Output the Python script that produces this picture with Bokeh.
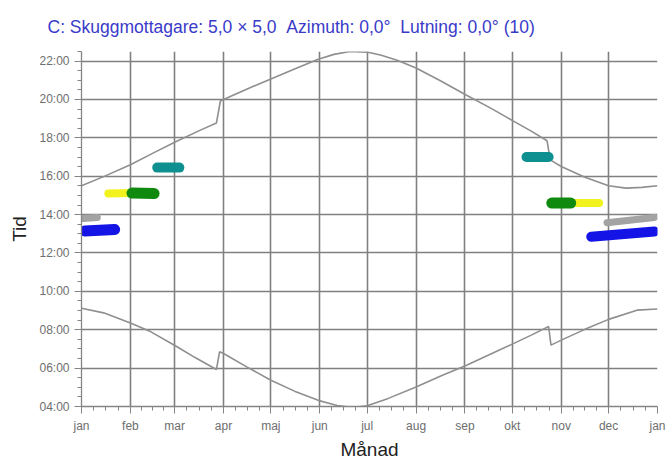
from bokeh.plotting import figure
from bokeh.models import FixedTicker, Range1d, Title
from bokeh.embed import file_html
from bokeh.resources import INLINE

# ---- axis definitions ----
month_days = [0, 31, 59, 90, 120, 151, 181, 212, 243, 273, 304, 334, 365]
month_labels = ["jan", "feb", "mar", "apr", "maj", "jun", "jul", "aug", "sep", "okt", "nov", "dec", "jan"]
hour_ticks = [4, 6, 8, 10, 12, 14, 16, 18, 20, 22]
hour_labels = ["04:00", "06:00", "08:00", "10:00", "12:00", "14:00", "16:00", "18:00", "20:00", "22:00"]

# ---- sunset curve (day of year, hour) ----
sunset_day = [0, 14, 31, 45, 60, 75, 85.5, 88, 90, 105, 120, 135, 150, 160, 170, 181, 190, 200,
              212, 228, 244, 259, 274, 285, 295, 297, 304, 319, 334, 345, 355, 365]
sunset_hour = [15.50, 15.98, 16.60, 17.19, 17.81, 18.39, 18.77, 19.92, 20.00, 20.55, 21.07, 21.59, 22.10,
               22.35, 22.50, 22.47, 22.30, 22.04, 21.64, 20.95, 20.22, 19.56, 18.86, 18.35, 17.85,
               16.85, 16.51, 15.95, 15.50, 15.38, 15.42, 15.50]

# ---- sunrise curve ----
sunrise_day = [0, 14, 31, 44, 60, 72, 85.5, 87.5, 90, 105, 120, 135, 150, 162, 172, 181, 194, 212,
               228, 244, 259, 274, 285, 296, 297.5, 304, 319, 334, 352, 365]
sunrise_hour = [9.12, 8.88, 8.35, 7.89, 7.14, 6.55, 5.93, 6.85, 6.76, 6.05, 5.37, 4.80, 4.32, 4.05,
                3.95, 4.04, 4.41, 5.02, 5.60, 6.15, 6.72, 7.29, 7.72, 8.17, 7.20, 7.46, 8.02, 8.54,
                9.02, 9.08]

# ---- shadow periods (start/end day, start/end hour) ----
gray_l_day = [1, 10];      gray_l_hour = [13.80, 13.85]
blue_l_day = [2, 21];      blue_l_hour = [13.15, 13.22]
yellow_l_day = [17, 31];   yellow_l_hour = [15.10, 15.12]
green_l_day = [32, 46];    green_l_hour = [15.12, 15.10]
teal_l_day = [48, 62];     teal_l_hour = [16.45, 16.45]
teal_r_day = [282, 296];   teal_r_hour = [17.00, 17.00]
yellow_r_day = [311, 328]; yellow_r_hour = [14.60, 14.60]
green_r_day = [298, 310];  green_r_hour = [14.60, 14.60]
gray_r_day = [333, 363];   gray_r_hour = [13.58, 13.85]
blue_r_day = [323, 363];   blue_r_hour = [12.85, 13.12]

NB = "\u00a0"
title_text = ("C: Skuggmottagare: 5,0 \u00d7 5,0" + NB + NB + "Azimuth: 0,0\u00b0" + NB + NB
              + "Lutning: 0,0\u00b0 (10)")

p = figure(width=669, height=463, x_range=Range1d(0, 365), y_range=Range1d(4, 22.5),
           output_backend="svg", toolbar_location=None,
           min_border_left=81, min_border_right=12, min_border_top=51, min_border_bottom=57)
p.title = Title(text=title_text, text_color="#3a3ac8", text_font="Liberation Sans",
                text_font_size="17.5px", text_font_style="normal", align="left", offset=-34,
                standoff=26, vertical_align="top")
p.outline_line_color = None
p.background_fill_color = "white"
p.border_fill_color = "white"

xminor = []
for a, b in zip(month_days[:-1], month_days[1:]):
    xminor += [a + (b - a) * k / 4 for k in (1, 2, 3)]
xt = FixedTicker(ticks=month_days, minor_ticks=xminor)
yminor = [4 + 0.5 * k for k in range(38)]
yt = FixedTicker(ticks=hour_ticks, minor_ticks=yminor)

p.xaxis.ticker = xt
p.yaxis.ticker = yt
p.xgrid.ticker = xt
p.ygrid.ticker = yt
p.xaxis.major_label_overrides = {d: l for d, l in zip(month_days, month_labels)}
p.yaxis.major_label_overrides = {h: l for h, l in zip(hour_ticks, hour_labels)}

for g in (p.xgrid, p.ygrid):
    g.grid_line_color = "#808080"
    g.grid_line_width = 1.6

for ax in (p.xaxis, p.yaxis):
    ax.axis_line_color = "#858585"
    ax.axis_line_width = 1.3
    ax.major_tick_line_color = "#858585"
    ax.minor_tick_line_color = "#858585"
    ax.major_tick_in = 0
    ax.minor_tick_in = 0
    ax.major_tick_out = 7
    ax.minor_tick_out = 4
    ax.major_label_text_font = "Liberation Sans"
    ax.major_label_text_font_size = "12px"
    ax.major_label_text_color = "#6e6e6e"
    ax.axis_label_text_font = "Liberation Sans"
    ax.axis_label_text_font_size = "19px"
    ax.axis_label_text_font_style = "normal"
    ax.axis_label_text_color = "#222222"
    ax.major_label_standoff = 5

p.xaxis.axis_label = "M\u00e5nad"
p.yaxis.axis_label = "Tid"
p.xaxis.axis_label_standoff = 3
p.yaxis.axis_label_standoff = 6

p.line(sunset_day, sunset_hour, line_color="#8f8f8f", line_width=1.6)
p.line(sunrise_day, sunrise_hour, line_color="#8f8f8f", line_width=1.6)

blobs = [
    (gray_l_day, gray_l_hour, "#a3a3a3", 7),
    (blue_l_day, blue_l_hour, "#1414e6", 11),
    (yellow_l_day, yellow_l_hour, "#f2f21e", 8),
    (green_l_day, green_l_hour, "#0f8a0f", 11),
    (teal_l_day, teal_l_hour, "#0f9090", 10),
    (teal_r_day, teal_r_hour, "#0f9090", 10),
    (yellow_r_day, yellow_r_hour, "#f2f21e", 8),
    (green_r_day, green_r_hour, "#0f8a0f", 11),
    (gray_r_day, gray_r_hour, "#a3a3a3", 7),
    (blue_r_day, blue_r_hour, "#1414e6", 10),
]
for d, h, c, w in blobs:
    p.line(d, h, line_color=c, line_width=w, line_cap="round")

open("out.html", "w").write(file_html(p, INLINE))
